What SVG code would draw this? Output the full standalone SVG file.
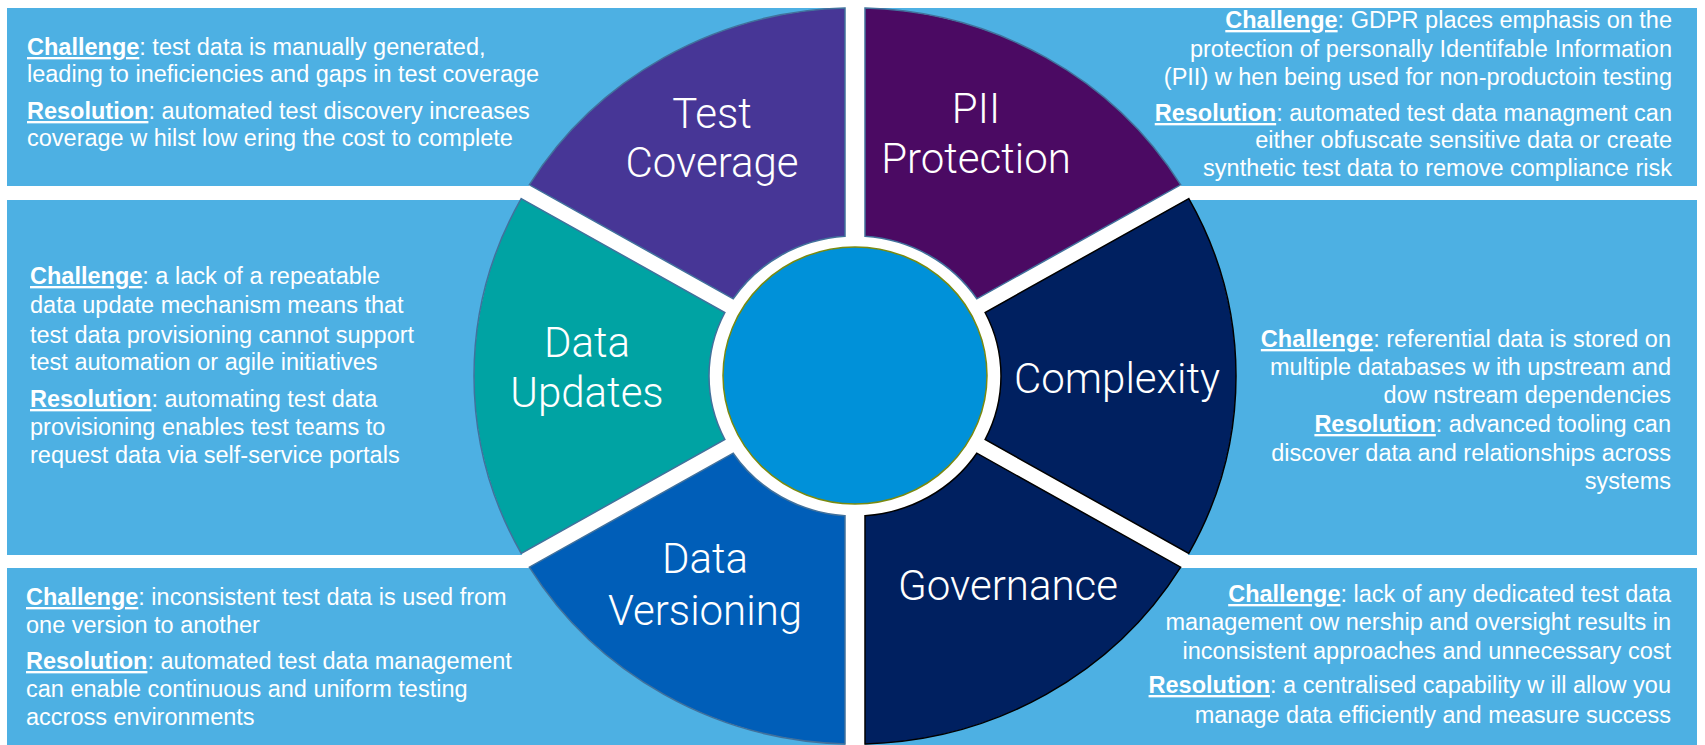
<svg xmlns="http://www.w3.org/2000/svg" width="1705" height="745" viewBox="0 0 1705 745">
<style>
.box{fill:#4DB0E3}
.t{font-family:"Liberation Sans",Arial,sans-serif;font-size:23.5px;fill:#fff}
.r{text-anchor:end}
.b{font-weight:bold;text-decoration:underline}
.lbl{font-family:Roboto,"Liberation Sans",Arial,sans-serif;font-weight:300;font-size:42px;fill:#fff;text-anchor:middle}
.sb{stroke:#41719C;stroke-width:1.5}
.sk{stroke:#000;stroke-width:1.5}
</style>
<rect x="0" y="0" width="1705" height="745" fill="#fff"/>
<g id="panels">
<rect id="box-tl" class="box" x="7" y="8" width="838" height="178"/>
<rect id="box-tr" class="box" x="865" y="8" width="832" height="178"/>
<rect id="box-ml" class="box" x="7" y="200" width="848" height="355"/>
<rect id="box-mr" class="box" x="855" y="200" width="842" height="355"/>
<rect id="box-bl" class="box" x="7" y="568" width="838" height="177"/>
<rect id="box-br" class="box" x="865" y="568" width="832" height="177"/>
</g>
<g id="wheel">
<ellipse cx="855" cy="376" rx="381" ry="368" fill="#fff"/>
<g id="seg-test-coverage">
<path class="sb" fill="#473696" d="M845 8.1 L845 236.3 A146 140 0 0 0 733.2 298.8 L529.3 184.8 A381 368 0 0 1 845 8.1 Z"/>
<text class="lbl" x="712" y="128">Test</text>
<text class="lbl" x="712" y="177">Coverage</text>
</g>
<g id="seg-pii">
<path class="sb" fill="#4B0A63" d="M865 8.1 L865 236.3 A146 140 0 0 1 976.8 298.8 L1180.7 184.8 A381 368 0 0 0 865 8.1 Z"/>
<text class="lbl" x="976" y="123">PII</text>
<text class="lbl" x="976" y="173">Protection</text>
</g>
<g id="seg-data-updates">
<path class="sb" fill="#00A3A3" d="M521.2 198.6 L724.9 312.5 A146 140 0 0 0 724.9 439.5 L521.2 553.4 A381 368 0 0 1 521.2 198.6 Z"/>
<text class="lbl" x="587" y="357">Data</text>
<text class="lbl" x="587" y="407">Updates</text>
</g>
<g id="seg-complexity">
<path class="sk" fill="#002060" d="M1188.8 198.6 L985.1 312.5 A146 140 0 0 1 985.1 439.5 L1188.8 553.4 A381 368 0 0 0 1188.8 198.6 Z"/>
<text class="lbl" x="1117" y="393">Complexity</text>
</g>
<g id="seg-data-versioning">
<path class="sb" fill="#005EB8" d="M845 743.9 L845 515.7 A146 140 0 0 1 733.2 453.2 L529.3 567.2 A381 368 0 0 0 845 743.9 Z"/>
<text class="lbl" x="705" y="573">Data</text>
<text class="lbl" x="705" y="625">Versioning</text>
</g>
<g id="seg-governance">
<path class="sk" fill="#002060" d="M865 743.9 L865 515.7 A146 140 0 0 0 976.8 453.2 L1180.7 567.2 A381 368 0 0 1 865 743.9 Z"/>
<text class="lbl" x="1008" y="600">Governance</text>
</g>
<g id="hub">
<ellipse cx="855" cy="375.5" rx="132" ry="128.5" fill="#0091D9" stroke="#7A8A10" stroke-width="1.5"/>
</g>
</g>
<g id="connectors"></g>
<g id="text-tl">
<text class="t" x="27" y="55"><tspan class="b">Challenge</tspan>: test data is manually generated,</text>
<text class="t" x="27" y="82">leading to ineficiencies and gaps in test coverage</text>
<text class="t" x="27" y="119"><tspan class="b">Resolution</tspan>: automated test discovery increases</text>
<text class="t" x="27" y="146">coverage w hilst low ering the cost to complete</text>
</g>
<g id="text-tr">
<text class="t r" x="1672" y="28"><tspan class="b">Challenge</tspan>: GDPR places emphasis on the</text>
<text class="t r" x="1672" y="57">protection of personally Identifable Information</text>
<text class="t r" x="1672" y="85">(PII) w hen being used for non-productoin testing</text>
<text class="t r" x="1672" y="121"><tspan class="b">Resolution</tspan>: automated test data managment can</text>
<text class="t r" x="1672" y="148">either obfuscate sensitive data or create</text>
<text class="t r" x="1672" y="176">synthetic test data to remove compliance risk</text>
</g>
<g id="text-ml">
<text class="t" x="30" y="284"><tspan class="b">Challenge</tspan>: a lack of a repeatable</text>
<text class="t" x="30" y="313">data update mechanism means that</text>
<text class="t" x="30" y="343">test data provisioning cannot support</text>
<text class="t" x="30" y="370">test automation or agile initiatives</text>
<text class="t" x="30" y="407"><tspan class="b">Resolution</tspan>: automating test data</text>
<text class="t" x="30" y="435">provisioning enables test teams to</text>
<text class="t" x="30" y="463">request data via self-service portals</text>
</g>
<g id="text-mr">
<text class="t r" x="1671" y="347"><tspan class="b">Challenge</tspan>: referential data is stored on</text>
<text class="t r" x="1671" y="375">multiple databases w ith upstream and</text>
<text class="t r" x="1671" y="403">dow nstream dependencies</text>
<text class="t r" x="1671" y="432"><tspan class="b">Resolution</tspan>: advanced tooling can</text>
<text class="t r" x="1671" y="461">discover data and relationships across</text>
<text class="t r" x="1671" y="489">systems</text>
</g>
<g id="text-bl">
<text class="t" x="26" y="605"><tspan class="b">Challenge</tspan>: inconsistent test data is used from</text>
<text class="t" x="26" y="633">one version to another</text>
<text class="t" x="26" y="669"><tspan class="b">Resolution</tspan>: automated test data management</text>
<text class="t" x="26" y="697">can enable continuous and uniform testing</text>
<text class="t" x="26" y="725">accross environments</text>
</g>
<g id="text-br">
<text class="t r" x="1671" y="602"><tspan class="b">Challenge</tspan>: lack of any dedicated test data</text>
<text class="t r" x="1671" y="630">management ow nership and oversight results in</text>
<text class="t r" x="1671" y="659">inconsistent approaches and unnecessary cost</text>
<text class="t r" x="1671" y="693"><tspan class="b">Resolution</tspan>: a centralised capability w ill allow you</text>
<text class="t r" x="1671" y="723">manage data efficiently and measure success</text>
</g>
</svg>
